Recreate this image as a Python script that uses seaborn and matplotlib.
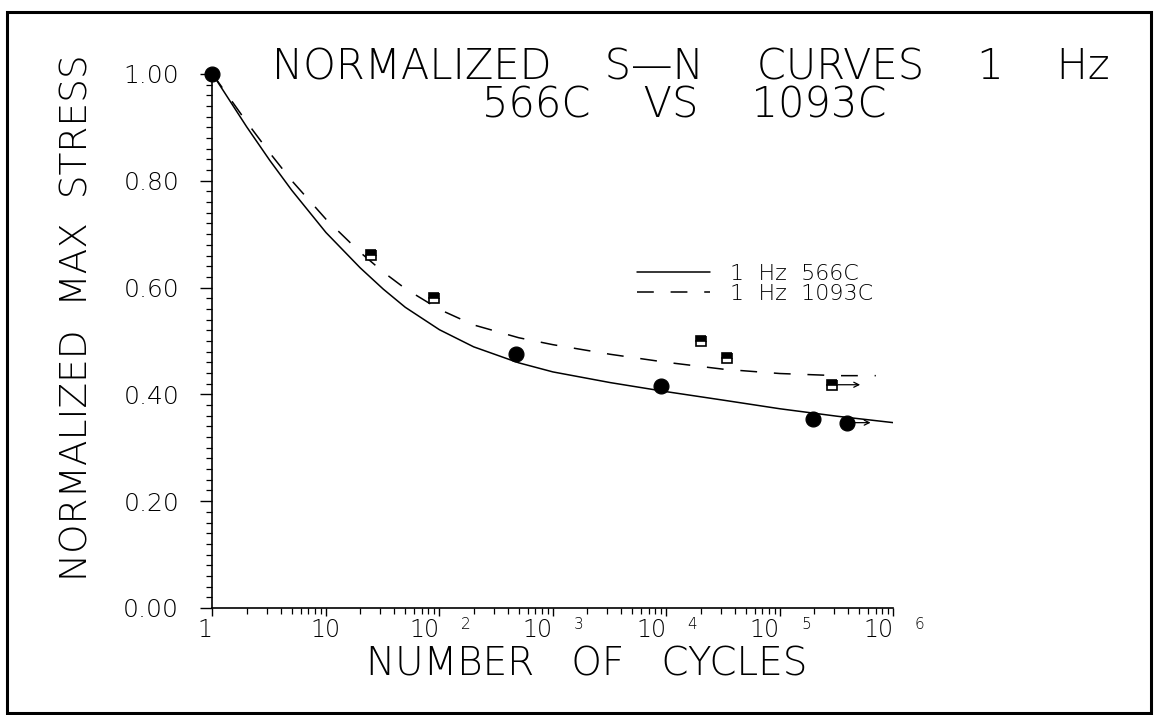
import numpy as np
import matplotlib
matplotlib.use("Agg")
import matplotlib.pyplot as plt
from matplotlib import font_manager as fm
from matplotlib.patches import Rectangle
from matplotlib.ticker import LogLocator, NullFormatter, MultipleLocator
import seaborn as sns

# fitted S-N curves (cycles, normalized max stress)
curve_566_cycles = [1, 2, 3.2, 5, 10, 20, 32, 50, 100, 200, 500,
                    1e3, 3.2e3, 1e4, 3.2e4, 1e5, 3.2e5, 1e6]
curve_566_stress = [1.00, 0.901, 0.838, 0.782, 0.703, 0.637, 0.597, 0.563,
                    0.521, 0.489, 0.459, 0.442, 0.422, 0.405, 0.389,
                    0.373, 0.359, 0.347]
curve_1093_cycles = [1, 2, 3.2, 5, 10, 20, 32, 50, 100, 200, 500,
                     1e3, 3.2e3, 1e4, 3.2e4, 1e5, 3.2e5, 7e5]
curve_1093_stress = [1.00, 0.910, 0.852, 0.800, 0.728, 0.666, 0.629, 0.598,
                     0.559, 0.530, 0.506, 0.493, 0.475, 0.460, 0.447,
                     0.439, 0.435, 0.435]

# test points (runout = specimen did not fail, drawn with an arrow)
pts_566_cycles = [1, 475, 8900, 1.95e5, 3.9e5]
pts_566_stress = [1.00, 0.475, 0.416, 0.354, 0.347]
pts_566_runout = [False, False, False, False, True]
pts_1093_cycles = [25, 90, 2.0e4, 3.4e4, 2.9e5]
pts_1093_stress = [0.661, 0.581, 0.499, 0.468, 0.418]
pts_1093_runout = [False, False, False, False, True]

legend_labels = ["1  Hz  566C", "1  Hz  1093C"]
x_ticks = [1, 10, 1e2, 1e3, 1e4, 1e5, 1e6]
x_base = ["1", "10", "10", "10", "10", "10", "10"]
x_exp = ["", "", "2", "3", "4", "5", "6"]
y_ticks = [0.0, 0.2, 0.4, 0.6, 0.8, 1.0]
y_labels = ["0.00", "0.20", "0.40", "0.60", "0.80", "1.00"]

sns.set_style("ticks", rc={"text.color": "black", "axes.labelcolor": "black",
                           "xtick.color": "black", "ytick.color": "black",
                           "axes.edgecolor": "black"})

# thin "plotter" look: use a light weight if one is installed
font, weight = "DejaVu Sans", "normal"
for fam, w in [("DejaVu Sans", 200), ("Open Sans", 300), ("Lato", 300), ("Roboto", 300)]:
    path = fm.findfont(fm.FontProperties(family=fam, weight=w))
    if "Light" in path or "Thin" in path:
        font, weight = fam, w
        break
plt.rcParams["font.family"] = [font, "DejaVu Sans"]
plt.rcParams["font.weight"] = weight
plt.rcParams["axes.labelweight"] = weight

fig = plt.figure(figsize=(11.58, 7.15), dpi=100)
ax = fig.add_axes([0.1835, 0.1497, 0.588, 0.7469])
ax.set_xscale("log")

sns.lineplot(x=curve_566_cycles, y=curve_566_stress, color="black",
  lw=1.1, label=legend_labels[0], sort=False, ax=ax)
sns.lineplot(x=curve_1093_cycles, y=curve_1093_stress, color="black",
  lw=1.1, linestyle=(0, (11, 11)), label=legend_labels[1], sort=False, ax=ax)

sns.scatterplot(x=pts_566_cycles, y=pts_566_stress, color="black",
  edgecolor="black", s=115, marker="o", zorder=4, clip_on=False,
  legend=False, ax=ax)
ax.plot(pts_1093_cycles, pts_1093_stress, ls="none", marker="s", ms=7,
  fillstyle="top", mfc="black", mfcalt="white", mec="black", mew=1.2,
  zorder=4)

# runout arrows
for xs, ys, rs, ln, gap in [(pts_566_cycles, pts_566_stress, pts_566_runout, 17, 5),
                            (pts_1093_cycles, pts_1093_stress, pts_1093_runout, 20, 4)]:
    for x, y, r in zip(xs, ys, rs):
        if r:
            ax.annotate("", xy=(x, y), xytext=(ln, 0), textcoords="offset points",
              arrowprops=dict(arrowstyle="<-", color="black", lw=0.9,
                              shrinkA=0, shrinkB=gap, mutation_scale=9))

ax.set_xlim(1, 1e6)
ax.set_ylim(0, 1.0)
ax.set_xticks(x_ticks)
ax.set_xticklabels(x_base)
ax.xaxis.set_minor_locator(LogLocator(base=10, subs=np.arange(2, 10), numticks=30))
ax.xaxis.set_minor_formatter(NullFormatter())
ax.set_yticks(y_ticks)
ax.set_yticklabels(y_labels)
ax.yaxis.set_minor_locator(MultipleLocator(0.02))

ax.tick_params(axis="y", which="major", direction="out", length=9, width=1,
  pad=15, labelsize=18)
ax.tick_params(axis="y", which="minor", direction="out", length=4.5, width=0.9)
ax.tick_params(axis="x", which="major", direction="out", length=6, width=1,
  pad=1, labelsize=17)
ax.tick_params(axis="x", which="minor", direction="out", length=4.5, width=0.9)
for lab in ax.get_xticklabels():
    lab.set_ha("right")
ax.get_xticklabels()[1].set_ha("center")

for t, e in zip(x_ticks, x_exp):
    if e:
        ax.annotate(e, xy=(t, 0), xycoords=("data", "axes fraction"),
          xytext=(26, -17), textcoords="offset pixels",
          ha="center", va="center", fontsize=11)

sns.despine(ax=ax)
for s in ["left", "bottom"]:
    ax.spines[s].set_linewidth(1.2)

ax.set_ylabel("NORMALIZED  MAX  STRESS", fontsize=27, va="center")
ax.yaxis.set_label_coords(-0.1997, 0.543)
ax.set_xlabel("NUMBER   OF   CYCLES", fontsize=28, va="center")
ax.xaxis.set_label_coords(0.55, -0.105)

fig.text(691 / 1158, 1 - 67 / 715, "NORMALIZED    S\u2014N    CURVES    1    Hz",
  ha="center", va="center", fontsize=30)
fig.text(684 / 1158, 1 - 105 / 715, "566C    VS    1093C",
  ha="center", va="center", fontsize=30)

ax.legend(loc="upper left", bbox_to_anchor=(637 / 1158, 1 - 264 / 715),
  bbox_transform=fig.transFigure, frameon=False, fontsize=16,
  handlelength=3.3, handletextpad=0.9, labelspacing=0.0,
  borderpad=0, borderaxespad=0)

# outer frame around the whole plot
fig.add_artist(Rectangle((6.5 / 1158, 2 / 715), (1151 - 6.5) / 1158, (713 - 12) / 715,
  transform=fig.transFigure, fill=False, lw=2.2, ec="black"))

fig.savefig("out.png", dpi=100)
